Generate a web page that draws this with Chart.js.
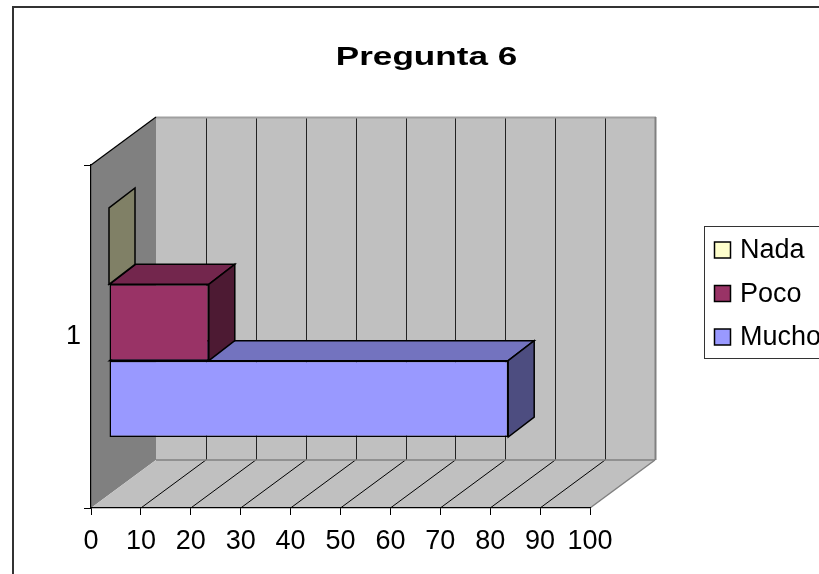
<!DOCTYPE html>
<html>
<head>
<meta charset="utf-8">
<script src="https://cdn.jsdelivr.net/npm/chart.js@4.4.0/dist/chart.umd.min.js"></script>
<style>
html,body{margin:0;padding:0;background:#fff;overflow:hidden}
#wrap{width:819px;height:574px;position:relative}
</style>
</head>
<body>
<div id="wrap"><canvas id="c" width="819" height="574"></canvas></div>
<script>
// ---- data ----
const categories = ['1'];
const seriesNames = ['Nada', 'Poco', 'Mucho'];
const nadaValues = [0];
const pocoValues = [20];
const muchoValues = [80];
const xTicks = [0, 10, 20, 30, 40, 50, 60, 70, 80, 90, 100];
const titleText = 'Pregunta 6';

// ---- styles ----
const frontColors = ['#FFFFCC', '#993366', '#9999FF'];
const topColors = ['#BFBF99', '#73264D', '#7373BF'];
const sideColors = ['#808066', '#4D1A33', '#4D4D80'];
const WALL = { dx: 65, dy: -48 };     // depth of the 3D box
const BAR_OFF = { dx: 18, dy: -14 };  // bars' front plane
const BAR_D = { dx: 26, dy: -20 };    // bar depth
const FONT = "'Liberation Sans', Arial, sans-serif";

function poly(ctx, pts, fill, stroke, lw) {
  ctx.beginPath();
  ctx.moveTo(pts[0][0], pts[0][1]);
  for (let i = 1; i < pts.length; i++) ctx.lineTo(pts[i][0], pts[i][1]);
  ctx.closePath();
  if (fill) { ctx.fillStyle = fill; ctx.fill(); }
  if (stroke) { ctx.strokeStyle = stroke; ctx.lineWidth = lw || 1; ctx.stroke(); }
}
function line(ctx, x1, y1, x2, y2, color, lw) {
  ctx.beginPath(); ctx.moveTo(x1, y1); ctx.lineTo(x2, y2);
  ctx.strokeStyle = color; ctx.lineWidth = lw || 1; ctx.stroke();
}

const threeD = {
  id: 'threeD',
  beforeDraw(chart) {
    const ctx = chart.ctx, a = chart.chartArea, xs = chart.scales.x;
    // stretch title like the original
    const tb = chart.titleBlock;
    if (tb && !tb._patched) {
      const orig = tb.draw.bind(tb);
      tb.draw = function () {
        const c = chart.ctx; c.save();
        const cx = (tb.left + tb.right) / 2;
        c.translate(cx, 0); c.scale(1.35, 1); c.translate(-cx, 0);
        orig(); c.restore();
      };
      tb._patched = true;
    }
    ctx.save();
    // chart frame
    ctx.strokeStyle = '#333'; ctx.lineWidth = 2;
    ctx.strokeRect(13, 7, 840, 620);
    const x0 = xs.getPixelForValue(xTicks[0]);
    const x1 = xs.getPixelForValue(xTicks[xTicks.length - 1]);
    const t = a.top, b = a.bottom, dx = WALL.dx, dy = WALL.dy;
    // back wall
    poly(ctx, [[x0 + dx, t + dy], [x1 + dx, t + dy], [x1 + dx, b + dy], [x0 + dx, b + dy]], '#C0C0C0');
    // left wall
    poly(ctx, [[x0, t], [x0 + dx, t + dy], [x0 + dx, b + dy], [x0, b]], '#808080');
    // floor
    poly(ctx, [[x0, b], [x1, b], [x1 + dx, b + dy], [x0 + dx, b + dy]], '#C0C0C0');
    // back wall gridlines
    for (let i = 1; i < xTicks.length - 1; i++) {
      const px = Math.round(xs.getPixelForValue(xTicks[i]) + dx) + 0.5;
      line(ctx, px, t + dy, px, b + dy, '#222', 1);
    }
    // floor gridlines
    for (let i = 1; i < xTicks.length - 1; i++) {
      const px = xs.getPixelForValue(xTicks[i]);
      line(ctx, px, b, px + dx, b + dy, '#000', 1);
    }
    // edges
    line(ctx, x0 + dx, t + dy + 0.5, x1 + dx + 1, t + dy + 0.5, '#A0A0A0', 2);
    line(ctx, x1 + dx + 0.5, t + dy, x1 + dx + 0.5, b + dy, '#808080', 2);
    line(ctx, x0 + dx, b + dy, x1 + dx, b + dy, '#808080', 1.5);
    line(ctx, x1, b, x1 + dx, b + dy, '#808080', 1.5);
    line(ctx, x0, t, x0 + dx, t + dy, '#000', 1.2);
    ctx.restore();
  },
  beforeDatasetsDraw(chart) {
    const ctx = chart.ctx;
    ctx.save();
    ctx.lineJoin = 'miter';
    for (let i = chart.data.datasets.length - 1; i >= 0; i--) {
      const meta = chart.getDatasetMeta(i);
      meta.data.forEach(el => {
        const p = el.getProps(['x', 'y', 'base', 'height'], true);
        const l = Math.min(p.x, p.base) + BAR_OFF.dx, r = Math.max(p.x, p.base) + BAR_OFF.dx;
        const tp = p.y - p.height / 2 + BAR_OFF.dy, bt = p.y + p.height / 2 + BAR_OFF.dy;
        const ddx = BAR_D.dx, ddy = BAR_D.dy;
        if (r - l > 0.5) poly(ctx, [[l, tp], [r, tp], [r + ddx, tp + ddy], [l + ddx, tp + ddy]], topColors[i], '#000', 1.5);
        poly(ctx, [[r, tp], [r + ddx, tp + ddy], [r + ddx, bt + ddy], [r, bt]], sideColors[i], '#000', 1.5);
      });
    }
    ctx.restore();
    ctx.save();
    ctx.translate(BAR_OFF.dx, BAR_OFF.dy);
  },
  afterDatasetsDraw(chart) {
    chart.ctx.restore();
  },
  afterDraw(chart) {
    const ctx = chart.ctx;
    ctx.save();
    // legend
    ctx.strokeStyle = '#333'; ctx.lineWidth = 1;
    ctx.strokeRect(704.5, 226.5, 200, 132);
    const rows = [250, 293.5, 337];
    ctx.font = '27px ' + FONT;
    ctx.textBaseline = 'middle';
    ctx.textAlign = 'left';
    chart.data.datasets.forEach((ds, i) => {
      const cy = rows[i];
      ctx.fillStyle = ds.backgroundColor;
      ctx.fillRect(714.5, cy - 8, 16, 16);
      ctx.strokeStyle = '#000'; ctx.lineWidth = 1.5;
      ctx.strokeRect(714.5, cy - 8, 16, 16);
      ctx.fillStyle = '#000';
      ctx.fillText(ds.label, 740, cy + 1);
    });
    ctx.restore();
  }
};

const seriesValues = [nadaValues, pocoValues, muchoValues];

new Chart(document.getElementById('c'), {
  type: 'bar',
  data: {
    labels: categories,
    datasets: seriesNames.map((n, i) => ({
      label: n,
      data: seriesValues[i],
      backgroundColor: frontColors[i],
      borderColor: '#000',
      borderWidth: 1.5,
      borderSkipped: false,
      categoryPercentage: 0.668,
      barPercentage: 1.0,
      clip: false,
      xAxisID: 'x',
      yAxisID: 'y'
    }))
  },
  options: {
    indexAxis: 'y',
    responsive: false,
    animation: false,
    events: [],
    layout: { padding: { left: 34, right: 0, top: 0, bottom: 0 } },
    plugins: {
      legend: { display: false },
      tooltip: { enabled: false },
      title: {
        display: true,
        text: titleText,
        color: '#000',
        font: { family: FONT, size: 26, weight: 'bold', lineHeight: 1.2 },
        padding: { top: 42, bottom: 91.8 }
      }
    },
    scales: {
      x: {
        type: 'linear',
        position: 'bottom',
        min: 0, max: 100,
        afterBuildTicks: s => { s.ticks = xTicks.map(v => ({ value: v })); },
        afterFit: s => { s.height = 66; },
        ticks: { color: '#000', font: { family: FONT, size: 27 }, padding: 10, maxRotation: 0, autoSkip: false },
        grid: { display: true, drawOnChartArea: false, drawTicks: true, tickLength: 7, color: '#000', lineWidth: 1 },
        border: { display: true, color: '#000', width: 1.2 }
      },
      y: {
        type: 'category',
        position: 'left',
        offset: true,
        afterFit: s => { s.width = 57; },
        ticks: { color: '#000', font: { family: FONT, size: 27 }, padding: 3 },
        grid: { display: true, offset: true, drawOnChartArea: false, drawTicks: true, tickLength: 7, color: '#000', lineWidth: 1 },
        border: { display: true, color: '#000', width: 1.2 }
      },
      yr: {
        type: 'category',
        position: 'right',
        display: true,
        afterFit: s => { s.width = 229; },
        ticks: { display: false },
        grid: { display: false },
        border: { display: false }
      }
    }
  },
  plugins: [threeD]
});
</script>
</body>
</html>
